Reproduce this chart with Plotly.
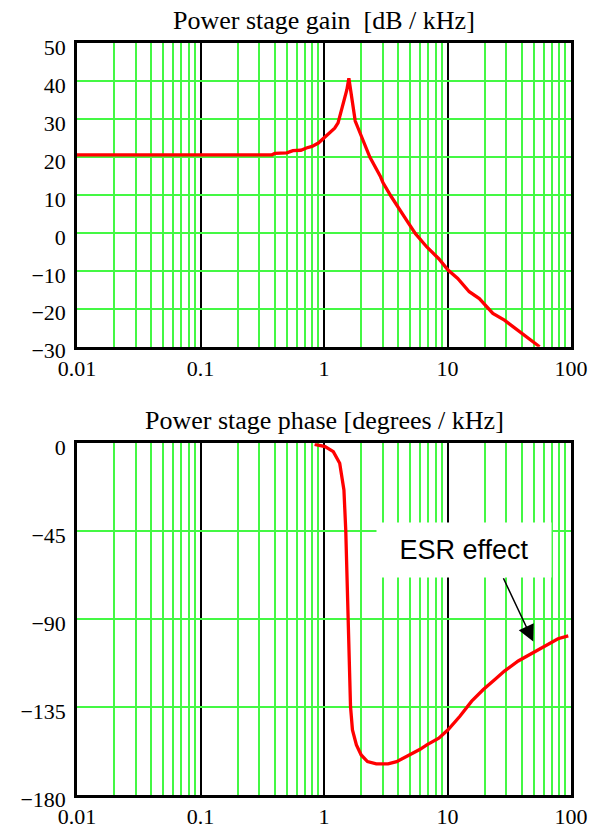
import math
import plotly.graph_objects as go

# ---------------- data ----------------
gain_freq = [0.01, 0.38, 0.40, 0.50, 0.56, 0.65, 0.72, 0.80, 0.90, 1.0, 1.1, 1.22, 1.3,
             1.38, 1.46, 1.53, 1.59, 1.79, 1.89, 2.07, 2.35, 2.87, 3.0, 3.5, 4.1, 4.8,
             5.5, 6.8, 8.5, 10.1, 12.1, 15.0, 18.1, 23.3, 28.9, 38.6, 55.7]
gain_db = [20.6, 20.6, 21.0, 21.1, 21.7, 21.8, 22.4, 22.8, 23.7, 25.0, 26.2, 27.6, 29.0,
           32.0, 35.0, 37.7, 40.8, 29.5, 27.6, 24.4, 20.0, 14.8, 13.3, 9.6, 6.0, 2.7,
           -0.2, -3.7, -6.8, -9.8, -12.0, -15.5, -17.3, -21.2, -23.0, -26.0, -30.0]

phase_freq = [0.84, 1.02, 1.19, 1.34, 1.45, 1.50, 1.57, 1.64, 1.70, 1.83, 2.00, 2.25, 2.65,
              3.3, 3.87, 4.96, 6.0, 6.8, 8.5, 10.1, 12.6, 15.7, 19.5, 24.2, 28.9, 37.4,
              50.0, 61.1, 78.5, 95.0]
phase_deg = [-0.5, -1.7, -4.3, -10.2, -23.9, -44.4, -90.4, -134.8, -146.7, -154.4, -159.5,
             -162.9, -164.1, -164.1, -162.9, -159.5, -156.6, -154.3, -150.9, -146.6, -139.7,
             -132.0, -126.0, -120.9, -116.6, -111.4, -107.1, -103.7, -100.0, -98.6]

x_tickvals = [0.01, 0.1, 1, 10, 100]
x_ticktext = ["0.01", "0.1", "1", "10", "100"]
gain_ticks = [50, 40, 30, 20, 10, 0, -10, -20, -30]
phase_ticks = [0, -45, -90, -135, -180]

gain_title = "Power stage gain  [dB / kHz]"
phase_title = "Power stage phase [degrees / kHz]"
esr_label = "ESR effect"

# ---------------- style ----------------
W, H = 608, 829
GREEN = "#44f844"
RED = "#ff0000"
SERIF = "Liberation Serif"
SANS = "Liberation Sans"

minor_vals = [k * 10 ** d for d in range(-2, 2) for k in range(2, 10)]

x_left, x_right = 77 / W, 571 / W
top_dom = [1 - 346.7 / H, 1 - 43.3 / H]
bot_dom = [1 - 795 / H, 1 - 443.3 / H]

fig = go.Figure()
fig.add_trace(go.Scatter(x=gain_freq, y=gain_db, mode="lines",
                         line=dict(color=RED, width=3.3), xaxis="x", yaxis="y",
                         hoverinfo="skip"))
fig.add_trace(go.Scatter(x=phase_freq, y=phase_deg, mode="lines",
                         line=dict(color=RED, width=3.3), xaxis="x2", yaxis="y2",
                         hoverinfo="skip"))


def xaxis_cfg(anchor):
    return dict(
        type="log", domain=[x_left, x_right], range=[-2, 2], anchor=anchor,
        automargin=False,
        tickmode="array", tickvals=x_tickvals, ticktext=x_ticktext,
        showgrid=True, gridcolor="black", gridwidth=2,
        minor=dict(tickmode="array", tickvals=minor_vals, showgrid=True,
                   gridcolor=GREEN, gridwidth=1.5, ticks=""),
        showline=True, linecolor="black", linewidth=2.5, mirror=True,
        ticks="", zeroline=False, ticklabelstandoff=0,
        tickfont=dict(family=SERIF, size=22, color="black"),
    )


def yaxis_cfg(anchor, dom, rng, ticks):
    return dict(
        domain=dom, range=rng, anchor=anchor, automargin=False,
        tickmode="array", tickvals=ticks,
        showgrid=True, gridcolor=GREEN, gridwidth=1.6,
        showline=True, linecolor="black", linewidth=2.5, mirror=True,
        ticks="", zeroline=False, ticklabelstandoff=4, ticklabelshift=4,
        tickfont=dict(family=SERIF, size=22, color="black"),
    )


fig.update_layout(
    template="none",
    width=W, height=H, margin=dict(l=0, r=0, t=0, b=0, autoexpand=False),
    paper_bgcolor="white", plot_bgcolor="white", showlegend=False,
    font=dict(family=SERIF, size=22, color="black"),
    xaxis=xaxis_cfg("y"),
    yaxis=yaxis_cfg("x", top_dom, [-30, 50], gain_ticks),
    xaxis2=xaxis_cfg("y2"),
    yaxis2=yaxis_cfg("x2", bot_dom, [-180, 0], phase_ticks),
)

# titles
fig.add_annotation(text=gain_title, xref="paper", yref="paper",
                   x=(x_left + x_right) / 2, y=1 - 21 / H, xanchor="center", yanchor="middle",
                   showarrow=False, font=dict(family=SERIF, size=26, color="black"))
fig.add_annotation(text=phase_title, xref="paper", yref="paper",
                   x=(x_left + x_right) / 2, y=1 - 420 / H, xanchor="center", yanchor="middle",
                   showarrow=False, font=dict(family=SERIF, size=26, color="black"))

# ESR callout box with label
fig.add_annotation(text=esr_label, xref="x2", yref="y2",
                   x=math.log10(13.5), y=-54.8, xanchor="center", yanchor="middle",
                   showarrow=False, bgcolor="white", width=172, height=52,
                   font=dict(family=SANS, size=27, color="black"))
# arrow
fig.add_annotation(text="", xref="x2", yref="y2", axref="x2", ayref="y2",
                   x=math.log10(49.5), y=-101.5, ax=math.log10(28), ay=-68.3,
                   showarrow=True, arrowhead=2, arrowsize=2.2, arrowwidth=1.5,
                   arrowcolor="black")

fig.write_html("out.html")
